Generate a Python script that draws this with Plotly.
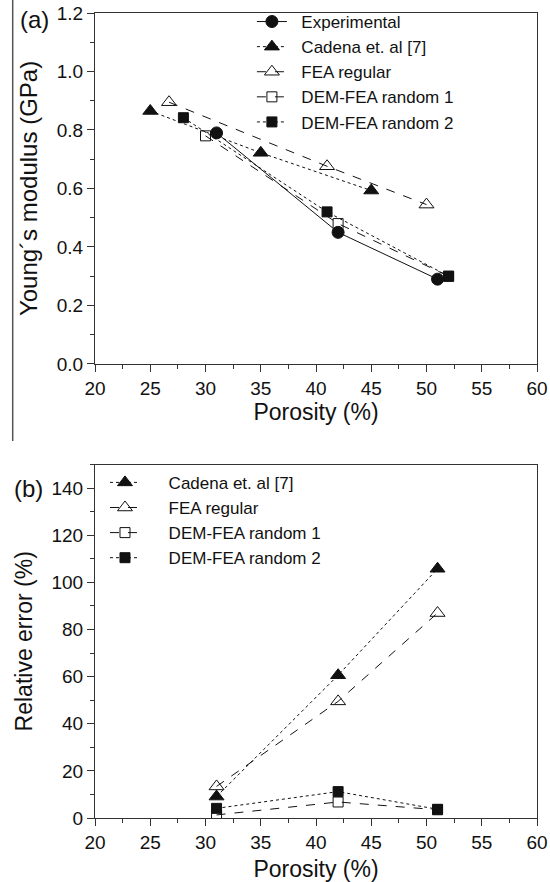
import plotly.graph_objects as go

# ---- data: panel (a) Young's modulus ----
exp_x = [31, 42, 51]
exp_y = [0.79, 0.45, 0.29]
cad_x = [25, 35, 45]
cad_y = [0.865, 0.722, 0.593]
fea_x = [26.7, 41, 50]
fea_y = [0.895, 0.676, 0.545]
r1_x = [30, 42, 52]
r1_y = [0.78, 0.48, 0.30]
r2_x = [28, 41, 52]
r2_y = [0.842, 0.52, 0.30]

# ---- data: panel (b) relative error ----
err_x = [31, 42, 51]
cad_err = [9.1, 60.6, 105.8]
fea_err = [13.4, 49.5, 87.0]
r1_err = [1.3, 6.8, 3.5]
r2_err = [4.1, 11.2, 3.7]

FONT = "Liberation Sans, Arial, sans-serif"
C = "#111111"
AX = "#333333"
NB = "\u00a0"

fig = go.Figure()

def add(x, y, name, sym, dash, xa, ya, lg, size):
    fig.add_trace(go.Scatter(
        x=x, y=y, name=name, mode="lines+markers",
        line=dict(color=C, width=1, dash=dash),
        marker=dict(symbol=sym, size=size, color=C,
                    line=dict(color=C, width=1)),
        xaxis=xa, yaxis=ya, legend=lg))

pa = NB * 2
add(exp_x, exp_y, pa + "Experimental", "circle", "solid", "x", "y", "legend", 12)
add(cad_x, cad_y, pa + "Cadena et. al [7]", "triangle-up", "dot", "x", "y", "legend", 13)
add(fea_x, fea_y, pa + "FEA regular", "triangle-up-open", "dash", "x", "y", "legend", 13)
add(r1_x, r1_y, pa + "DEM-FEA random 1", "square-open", "dash", "x", "y", "legend", 10)
add(r2_x, r2_y, pa + "DEM-FEA random 2", "square", "dot", "x", "y", "legend", 10)

pb = NB * 5
add(err_x, cad_err, pb + "Cadena et. al [7]", "triangle-up", "dot", "x2", "y2", "legend2", 13)
add(err_x, fea_err, pb + "FEA regular", "triangle-up-open", "dash", "x2", "y2", "legend2", 13)
add(err_x, r1_err, pb + "DEM-FEA random 1", "square-open", "dash", "x2", "y2", "legend2", 10)
add(err_x, r2_err, pb + "DEM-FEA random 2", "square", "dot", "x2", "y2", "legend2", 10)

axis_common = dict(
    showline=True, linecolor=AX, linewidth=1, mirror=True,
    ticks="outside", ticklen=7, tickwidth=1, tickcolor=AX,
    showgrid=False, zeroline=False,
    tickfont=dict(family=FONT, size=19, color=C),
)

def minor(d):
    return dict(ticks="outside", ticklen=4, dtick=d, tickcolor=AX, tickwidth=1)

TF = dict(family=FONT, size=23, color=C)

fig.update_layout(
    width=550, height=882,
    margin=dict(l=95, r=13, t=13, b=64, autoexpand=False),
    paper_bgcolor="white", plot_bgcolor="white",
    showlegend=True,
    xaxis=dict(domain=[0, 1], range=[20, 60], dtick=5, anchor="y",
               minor=minor(2.5),
               title=dict(text="Porosity (%)", standoff=2, font=TF), **axis_common),
    yaxis=dict(domain=[0.5640, 1.0], range=[0, 1.2], dtick=0.2, anchor="x",
               tickformat=".1f", minor=minor(0.1),
               title=dict(text="Young´s modulus (GPa)", standoff=12,
                          font=dict(family=FONT, size=24, color=C)), **axis_common),
    xaxis2=dict(domain=[0, 1], range=[20, 60], dtick=5, anchor="y2",
                minor=minor(2.5),
                title=dict(text="Porosity (%)", standoff=13, font=TF), **axis_common),
    yaxis2=dict(domain=[0, 0.439], range=[0, 150], dtick=20, anchor="x2",
                minor=minor(10),
                title=dict(text="Relative error (%)", standoff=12, font=TF), **axis_common),
    legend=dict(x=0.355, y=1.0112, xanchor="left", yanchor="top",
                bgcolor="rgba(0,0,0,0)", tracegroupgap=0,
                font=dict(family=FONT, size=17, color=C)),
    legend2=dict(x=0.0226, y=0.4387, xanchor="left", yanchor="top",
                 bgcolor="rgba(0,0,0,0)", tracegroupgap=0,
                 font=dict(family=FONT, size=17, color=C)),
    annotations=[
        dict(text="(a)", xref="paper", yref="paper", x=-0.174, y=(818-20)/805,
             xanchor="left", yanchor="middle", showarrow=False,
             font=dict(family=FONT, size=24, color=C)),
        dict(text="(b)", xref="paper", yref="paper", x=-0.188, y=(818-488)/805,
             xanchor="left", yanchor="middle", showarrow=False,
             font=dict(family=FONT, size=24, color=C)),
    ],
    shapes=[dict(type="line", xref="paper", yref="paper",
                 x0=(12.7-95)/442, x1=(12.7-95)/442,
                 y0=(818-441)/805, y1=(818-0)/805,
                 line=dict(color="#555", width=1.5))],
)

fig.write_html(
    "out.html",
    config={"displayModeBar": False},
    post_script="document.body.style.margin='0px';document.body.style.overflow='hidden';",
)
